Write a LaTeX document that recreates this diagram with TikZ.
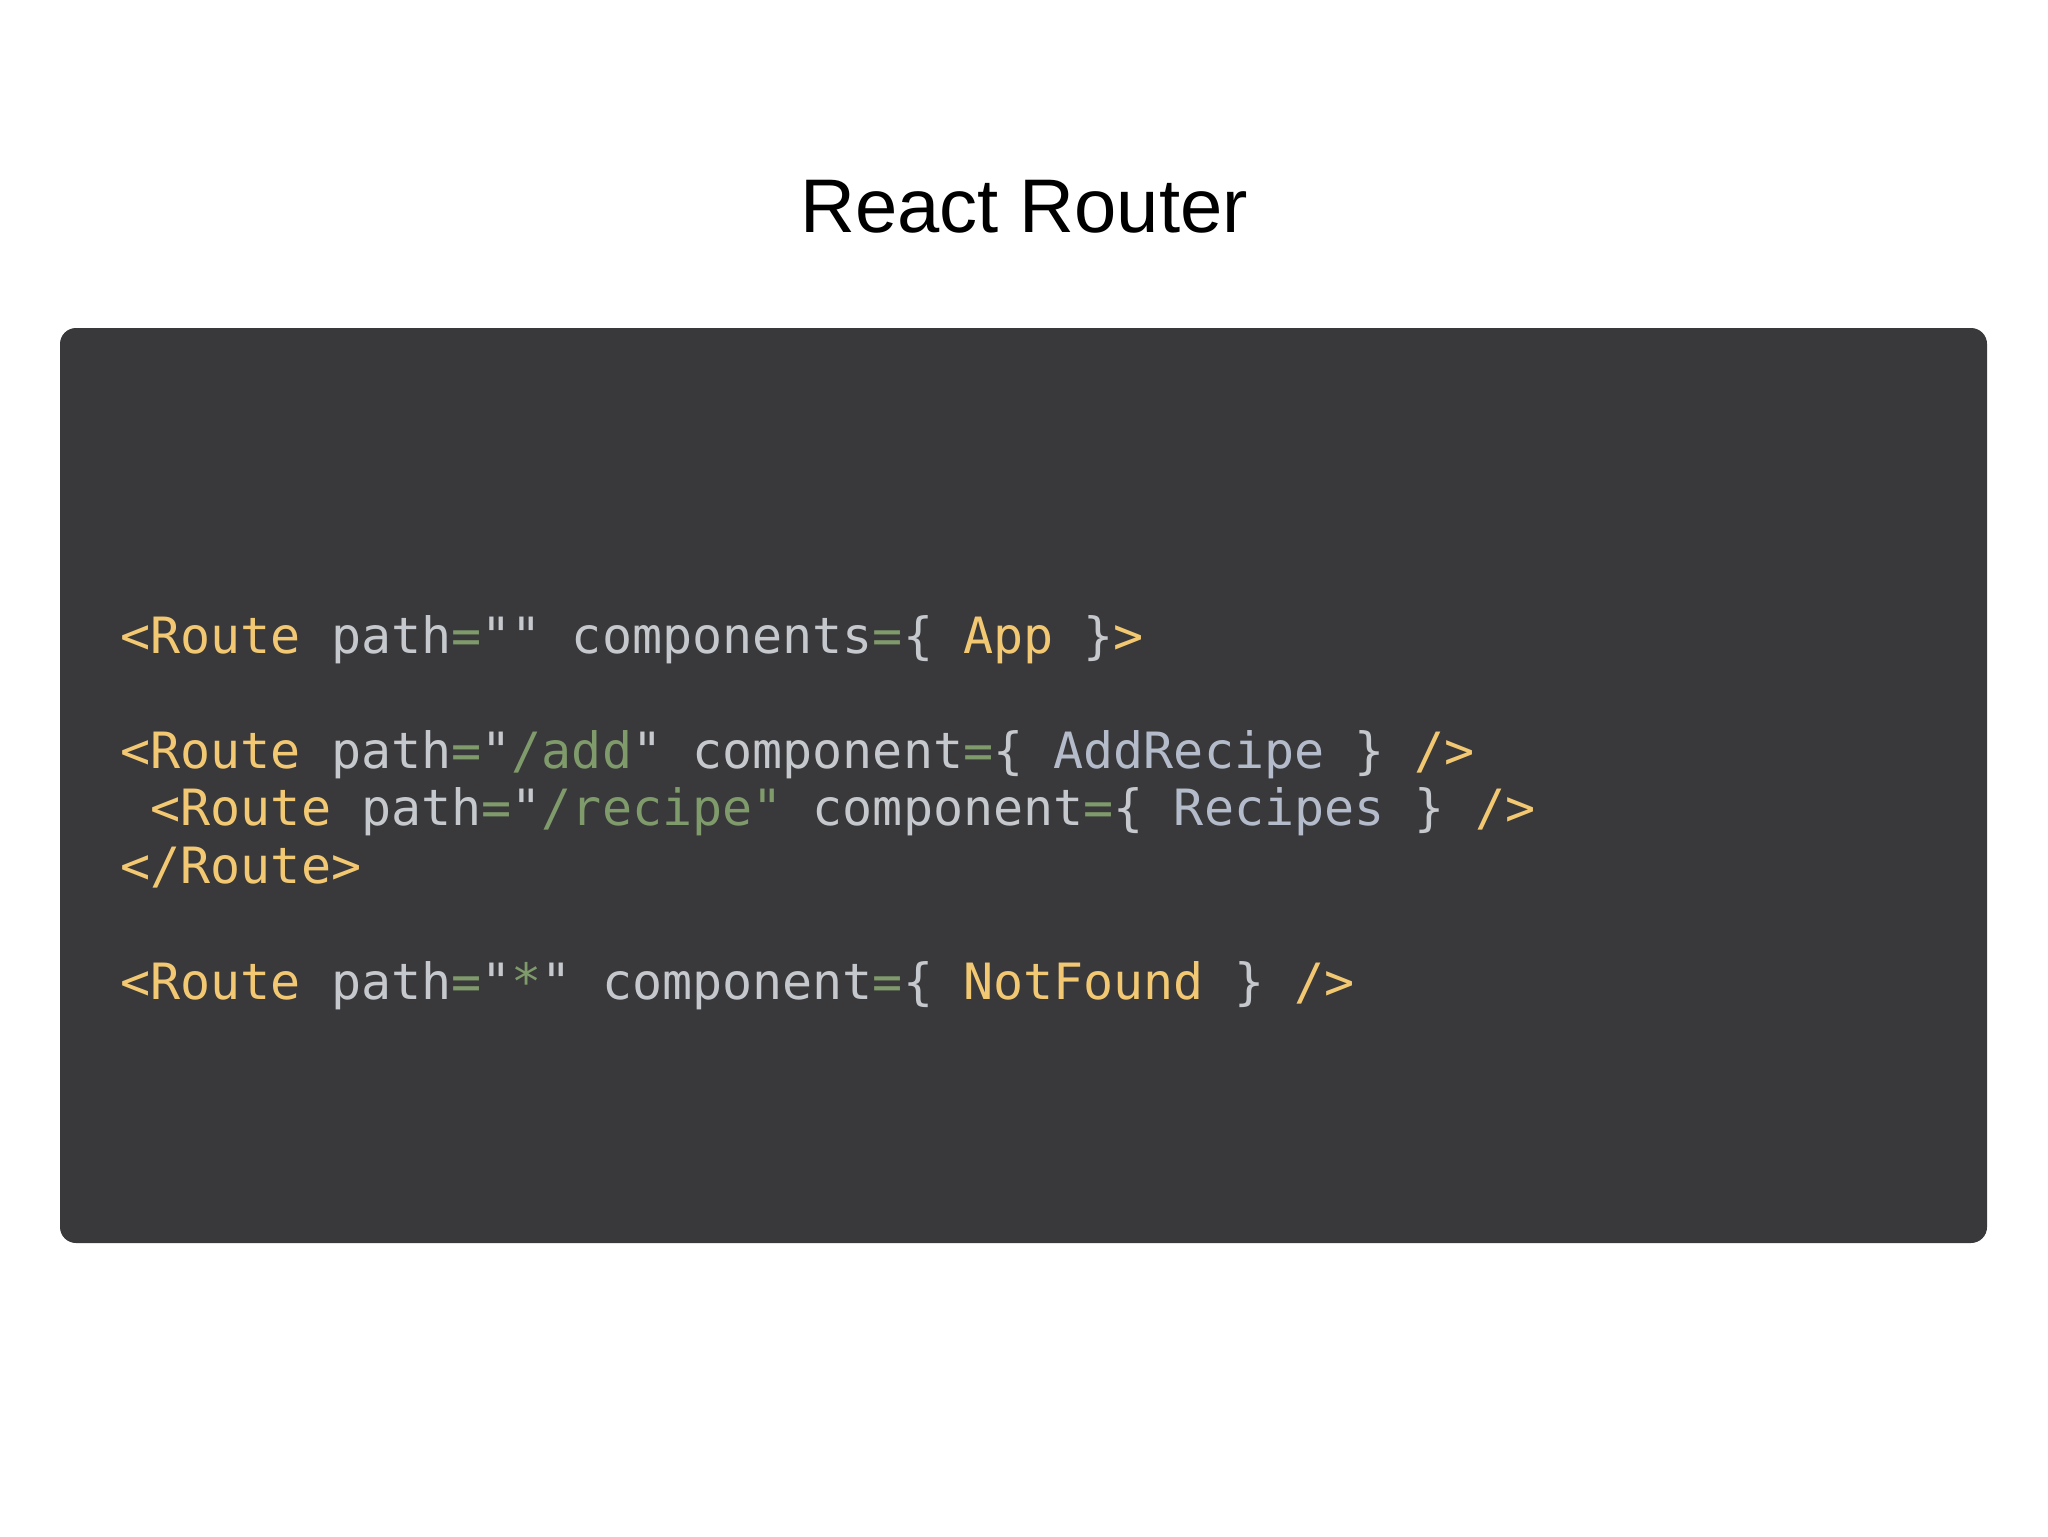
\documentclass[tikz,border=0pt]{standalone}
\usepackage{fontspec}
\setmainfont{Liberation Sans}
\newfontfamily\codefont{DejaVu Sans Mono}
\definecolor{bgbox}{HTML}{39383A}
\definecolor{cy}{HTML}{F2C872}
\definecolor{cg}{HTML}{C5C8CC}
\definecolor{cgr}{HTML}{7F9A6B}
\definecolor{cb}{HTML}{B4BCCB}
\newcommand{\Y}[1]{\textcolor{cy}{#1}}
\newcommand{\G}[1]{\textcolor{cg}{#1}}
\newcommand{\N}[1]{\textcolor{cgr}{#1}}
\newcommand{\B}[1]{\textcolor{cb}{#1}}
\begin{document}
\begin{tikzpicture}[x=0.5pt,y=-0.5pt,
  codeline/.style={anchor=base west,inner sep=0,font=\codefont\fontsize{25}{30}\selectfont}]
\useasboundingbox (0,0) rectangle (2048,1536);
\fill[white] (0,0) rectangle (2048,1536);
\node[font=\fontsize{38}{44}\selectfont,anchor=base] (title) at (1024,232) {React Router};
\fill[bgbox,rounded corners=8pt] (60,328) rectangle (1987,1243);
\node[codeline] (l1) at (120,653) {\Y{<Route} \G{path}\N{=}\G{""} \G{components}\N{=}\G{\{} \Y{App} \G{\}}\Y{>}};
\node[codeline] (l2) at (120,768) {\Y{<Route} \G{path}\N{=}\G{"}\N{/add}\G{"} \G{component}\N{=}\G{\{} \B{AddRecipe} \G{\}} \Y{/>}};
\node[codeline] (l3) at (150.1,825) {\Y{<Route} \G{path}\N{=}\G{"}\N{/recipe}\N{"} \G{component}\N{=}\G{\{} \B{Recipes} \G{\}} \Y{/>}};
\node[codeline] (l4) at (120,883) {\Y{</Route>}};
\node[codeline] (l5) at (120,999) {\Y{<Route} \G{path}\N{=}\G{"}\N{*}\G{"} \G{component}\N{=}\G{\{} \Y{NotFound} \G{\}} \Y{/>}};
\end{tikzpicture}
\end{document}
